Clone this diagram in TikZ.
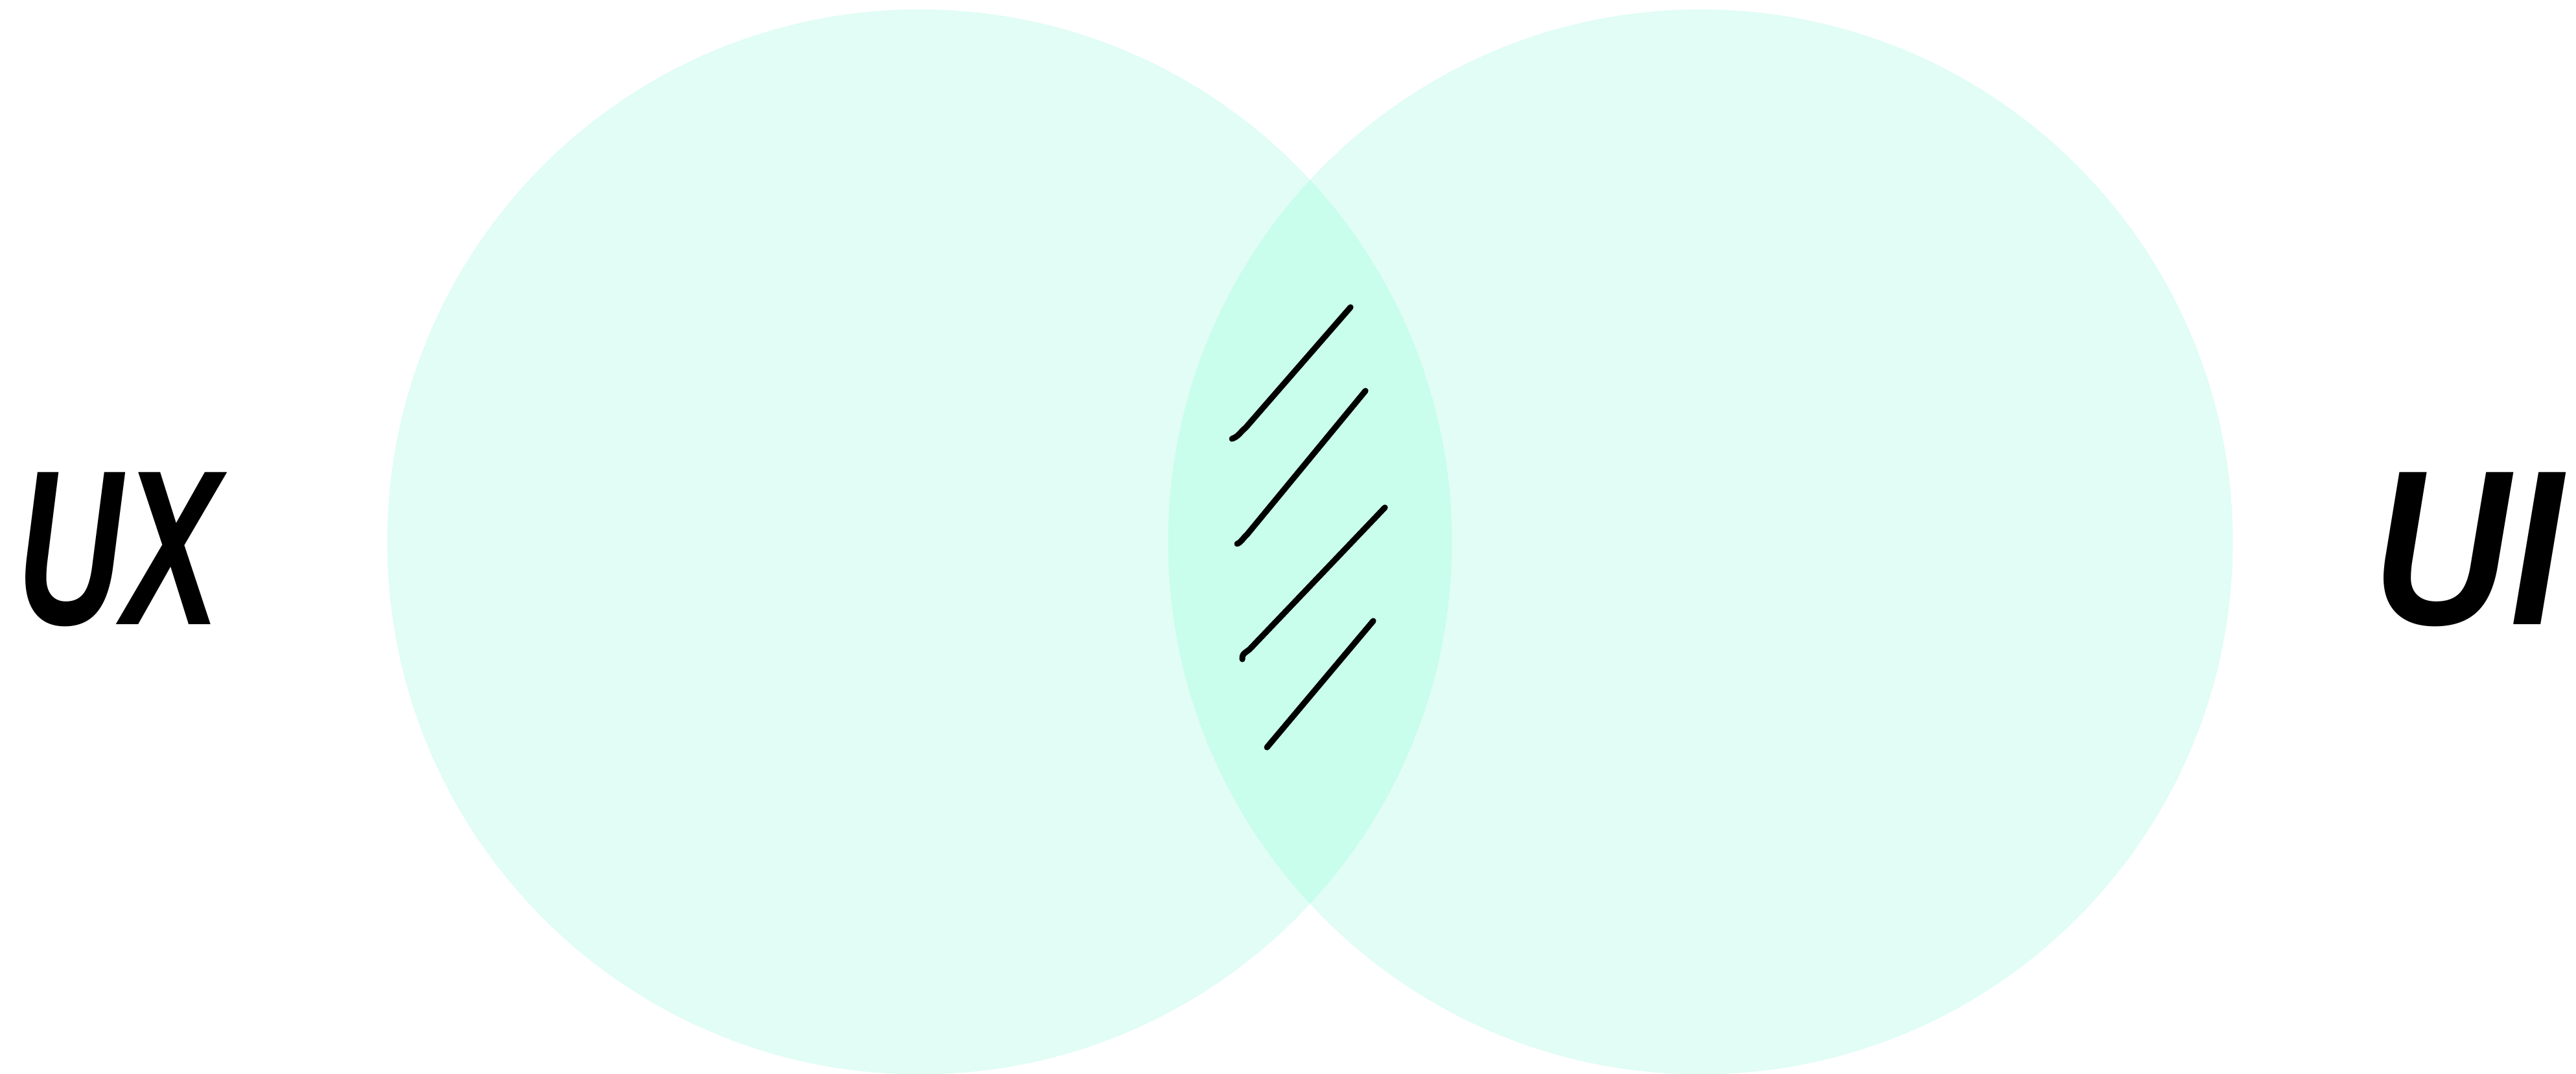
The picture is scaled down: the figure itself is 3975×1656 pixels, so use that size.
\documentclass[tikz,border=0pt]{standalone}
\usepackage{fontspec}
\usepackage{tikz}
\usetikzlibrary{positioning}
\newfontfamily\lblfont{Liberation Sans}
\definecolor{mintone}{RGB}{225,253,245}
\definecolor{minttwo}{RGB}{201,253,236}
\tikzset{
  setdisk/.style={circle,fill=mintone,minimum size=16.42cm,inner sep=0pt},
  setlbl/.style={font=\lblfont\fontsize{97}{97}\selectfont\bfseries\itshape,
    xscale=0.66,inner sep=0pt},
  hatch/.style={line width=2.6pt,line cap=round,line join=round},
}
\begin{document}
\begin{tikzpicture}[x=0.01cm,y=-0.01cm]
  \useasboundingbox (0,0) rectangle (3975,1656);
  % two sets, same radius, common centre line
  \node[setdisk] (ux) at (1419,836) {};
  \node[setdisk] (ui) at (2624,836) {};
  % --- overlap ---
  \begin{scope}
    \clip (ux.center) circle (8.21cm);
    \fill[minttwo] (ui.center) circle (8.21cm);
  \end{scope}
  % --- hand strokes in the overlap ---
  \draw[hatch] (1901,677) .. controls (1912,673) and (1914,666) .. (1922,660) -- (2084,474);
  \draw[hatch] (1909,839) .. controls (1916,836) and (1918,830) .. (1924,825) -- (2107,603);
  \draw[hatch] (1917,1017) .. controls (1917,1010) .. (1928,1002) -- (2137,783);
  \draw[hatch] (1955,1153) -- (2119,958);
  % --- labels ---
  \node[setlbl] (uxlbl) at (183,848) {UX};
  \node[setlbl,xscale=1.3] (uilbl) at (3808,848) {UI};
\end{tikzpicture}
\end{document}
